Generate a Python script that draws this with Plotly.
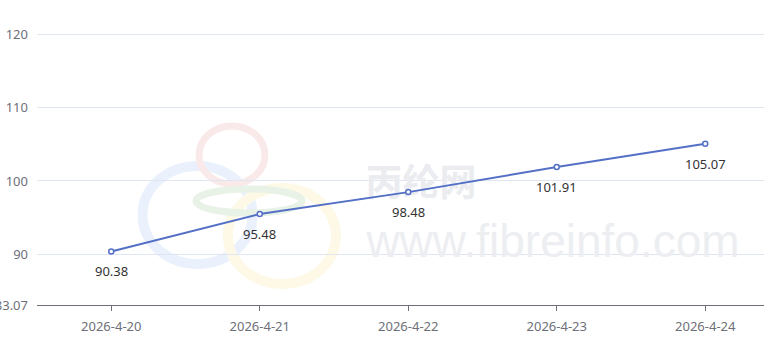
import plotly.graph_objects as go

dates = ["2026-4-20", "2026-4-21", "2026-4-22", "2026-4-23", "2026-4-24"]
values = [90.38, 95.48, 98.48, 101.91, 105.07]
y_ticks = [83.07, 90, 100, 110, 120, 123.07]
y_ticktext = ["83.07", "90", "100", "110", "120", ""]

W, H = 764, 351
L, R, T, B = 37, 0, 12, 46
PW, PH = W - L - R, H - T - B
Y0, Y1 = 83.07, 123.07
CAT_W = 148.5

def px(x):
    return (x - L) / PW

def py(y):
    return (H - B - y) / PH

# pixel -> data coords (for watermark only)
def dx(x):
    return -0.5 + (x - L) / CAT_W

def dy(y):
    return Y0 + (H - B - y) / PH * (Y1 - Y0)

fig = go.Figure()

# watermark text (drawn first, beneath the line)
fig.add_trace(go.Scatter(
    x=[dx(421)], y=[dy(187)], mode="text", text=["<b>丙纶网</b>"],
    textfont=dict(size=37, color="#EBECF0", family="Noto Sans CJK SC"),
    hoverinfo="skip", cliponaxis=False,
))
fig.add_trace(go.Scatter(
    x=[dx(553)], y=[dy(245)], mode="text", text=["www.fibreinfo.com"],
    textfont=dict(size=46, color="#EDEEF2", family="Liberation Sans"),
    hoverinfo="skip", cliponaxis=False,
))

fig.add_trace(go.Scatter(
    x=list(range(len(dates))), y=values, mode="lines+markers",
    line=dict(color="#5470C6", width=2),
    marker=dict(symbol="circle", size=5, color="white",
                line=dict(color="#5470C6", width=1.5)),
    hoverinfo="skip", cliponaxis=False,
))

for i, v in enumerate(values):
    fig.add_annotation(x=i, y=v, text=f"{v:.2f}", showarrow=False,
                       yshift=-20, font=dict(size=13, color="#333333"))

# faint watermark rings
rings = [
    (197.5, 215, 55, 49, "#EAF1FD", 10),
    (232, 155, 33, 29, "#FAE9E9", 7),
    (282, 236, 54, 48, "#FDF9E6", 10),
    (249, 201, 53, 12, "#E9F2E6", 7),
]
shapes = []
for cx, cy, rx, ry, col, w in rings:
    shapes.append(dict(type="circle", xref="paper", yref="paper",
                       x0=px(cx - rx), x1=px(cx + rx), y0=py(cy + ry), y1=py(cy - ry),
                       line=dict(color=col, width=w), layer="below"))
fig.update_layout(shapes=shapes)

fig.update_layout(
    width=W, height=H,
    margin=dict(l=L, r=R, t=T, b=B, autoexpand=False),
    paper_bgcolor="white", plot_bgcolor="white",
    font=dict(family="Noto Sans", size=13, color="#6E7079"),
    showlegend=False,
    xaxis=dict(
        range=[-0.5, -0.5 + PW / CAT_W],
        tickvals=list(range(len(dates))), ticktext=dates,
        tickson="boundaries", ticks="outside", ticklen=5, tickcolor="#6E7079",
        showline=True, linecolor="#6E7079", linewidth=1,
        showgrid=False, zeroline=False, fixedrange=True,
        ticklabelstandoff=4, automargin=False,
    ),
    yaxis=dict(
        range=[Y0, Y1],
        tickvals=y_ticks, ticktext=y_ticktext,
        showgrid=True, gridcolor="#E0E6F1", gridwidth=1,
        showline=False, zeroline=False, ticks="",
        ticklabelstandoff=8, fixedrange=True, automargin=False,
    ),
)

fig.write_html("out.html")
